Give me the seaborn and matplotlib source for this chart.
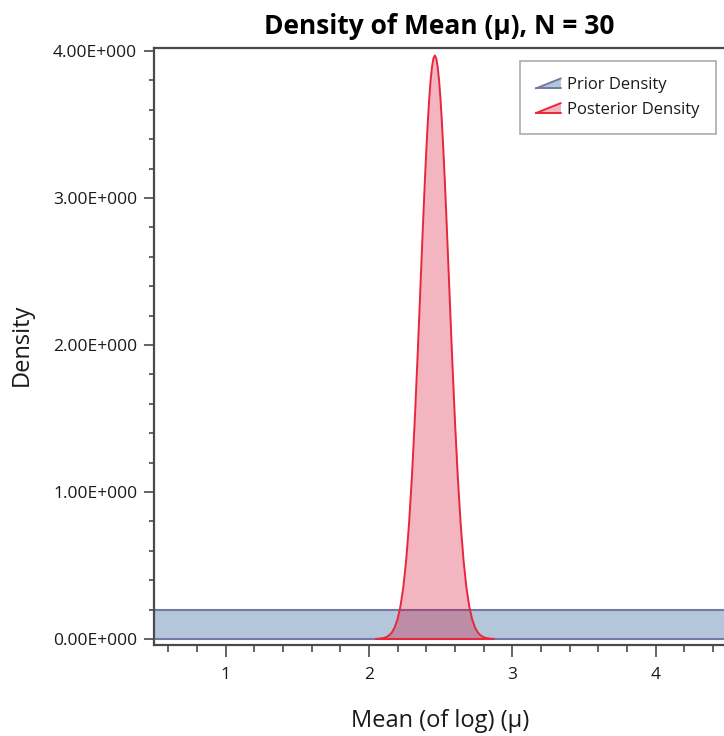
import matplotlib
matplotlib.use("Agg")
import matplotlib.pyplot as plt
import seaborn as sns
import pandas as pd
from matplotlib.ticker import FixedLocator, MultipleLocator
from matplotlib.legend_handler import HandlerBase
from matplotlib.patches import Polygon
from matplotlib.lines import Line2D

# ---------------- data ----------------
title = "Density of Mean (\u03bc), N = 30"
x_label = "Mean (of log) (\u03bc)"
y_label = "Density"
series_names = ["Prior Density", "Posterior Density"]

prior_bounds = [0.0, 5.0]          # uniform prior, extends past both axis edges
prior_density = 0.2

post_x = [2.05, 2.06, 2.08, 2.10, 2.12, 2.14, 2.16, 2.18, 2.20, 2.22, 2.24,
          2.26, 2.28, 2.30, 2.32, 2.34, 2.36, 2.37, 2.38, 2.39, 2.40, 2.41,
          2.42, 2.43, 2.44, 2.45, 2.46,
          2.47, 2.48, 2.49, 2.50, 2.51, 2.52, 2.53, 2.54, 2.55, 2.56, 2.58,
          2.60, 2.62, 2.64, 2.66, 2.68, 2.70, 2.72, 2.74, 2.76, 2.78, 2.80,
          2.82, 2.84, 2.86, 2.87]
post_y = [0.001, 0.001, 0.003, 0.006, 0.012, 0.024, 0.044, 0.079, 0.135, 0.223,
          0.353, 0.537, 0.786, 1.104, 1.490, 1.933, 2.408, 2.648, 2.883, 3.107,
          3.316, 3.504, 3.665, 3.795, 3.891, 3.950, 3.970,
          3.950, 3.891, 3.795, 3.665, 3.504, 3.316, 3.107, 2.883, 2.648, 2.408,
          1.933, 1.490, 1.104, 0.786, 0.537, 0.353, 0.223, 0.135, 0.079, 0.044,
          0.024, 0.012, 0.006, 0.003, 0.001, 0.001]

x_ticks = [1, 2, 3, 4]
x_tick_labels = ["1", "2", "3", "4"]
y_ticks = [0, 1, 2, 3, 4]
y_tick_labels = ["0.00E+000", "1.00E+000", "2.00E+000", "3.00E+000", "4.00E+000"]

# ---------------- style ----------------
sns.set_style("white")
plt.rcParams["font.family"] = ["Open Sans", "DejaVu Sans"]

prior_face = "#B4C6DA"
prior_edge = "#7479A8"
post_face = (214 / 255, 0.0, 38 / 255, 0.29)
post_edge = "#E8263C"
axis_col = "#4a4a4a"
text_col = "#1a1a1a"

W, H = 724, 736
fig = plt.figure(figsize=(W / 100, H / 100), dpi=100)
ax_l, ax_r, ax_t, ax_b = 154, 724, 48, 645
ax = fig.add_axes([ax_l / W, 1 - ax_b / H, (ax_r - ax_l) / W, (ax_b - ax_t) / H])

# prior: filled band with outline
ax.fill_between(prior_bounds, 0, prior_density, color=prior_face, lw=0, zorder=1)
prior_df = pd.DataFrame({
    "x": [prior_bounds[0], prior_bounds[0], prior_bounds[1], prior_bounds[1], prior_bounds[0]],
    "y": [0, prior_density, prior_density, 0, 0],
})
sns.lineplot(data=prior_df, x="x", y="y", sort=False, estimator=None,
             color=prior_edge, lw=1.5, ax=ax, legend=False, zorder=2)

# posterior: filled curve with closed outline
ax.fill_between(post_x, 0, post_y, color=post_face, lw=0, zorder=3)
post_df = pd.DataFrame({
    "x": post_x + [post_x[-1], post_x[0], post_x[0]],
    "y": post_y + [0, 0, post_y[0]],
})
sns.lineplot(data=post_df, x="x", y="y", sort=False, estimator=None,
             color=post_edge, lw=1.4, ax=ax, legend=False, zorder=4)
for ln in ax.get_lines():
    ln.set_solid_joinstyle("round")

# axes limits / ticks
ax.set_xlim(0.5, 4.478)
ax.set_ylim(-0.041, 4.0204)
ax.xaxis.set_major_locator(FixedLocator(x_ticks))
ax.set_xticklabels(x_tick_labels)
ax.xaxis.set_minor_locator(MultipleLocator(0.2))
ax.yaxis.set_major_locator(FixedLocator(y_ticks))
ax.set_yticklabels(y_tick_labels)
ax.yaxis.set_minor_locator(MultipleLocator(0.2))

for side in ["left", "bottom", "top"]:
    ax.spines[side].set_visible(True)
    ax.spines[side].set_color(axis_col)
    ax.spines[side].set_linewidth(1.6)
ax.spines["right"].set_visible(False)

ax.tick_params(axis="y", which="major", direction="out", length=7.2, width=1.2,
               color=axis_col, labelsize=12.5, labelcolor=text_col, pad=5, left=True)
ax.tick_params(axis="y", which="minor", direction="out", length=3.6, width=1.2,
               color=axis_col, left=True)
ax.tick_params(axis="x", which="major", direction="out", length=8.6, width=1.2,
               color=axis_col, labelsize=12.5, labelcolor=text_col, pad=7, bottom=True)
ax.tick_params(axis="x", which="minor", direction="out", length=5, width=1.2,
               color=axis_col, bottom=True)

ax.set_title(title, fontsize=19, fontweight="bold", color="black", pad=10)
ax.set_xlabel(x_label, fontsize=17, color=text_col, va="center")
ax.set_ylabel(y_label, fontsize=17, color=text_col, va="center")
ax.xaxis.set_label_coords((440 - ax_l) / (ax_r - ax_l), (ax_b - 721) / (ax_b - ax_t))
ax.yaxis.set_label_coords((22 - ax_l) / (ax_r - ax_l), (ax_b - 345) / (ax_b - ax_t))


class AreaHandler(HandlerBase):
    def __init__(self, face, edge):
        super().__init__()
        self.face = face
        self.edge = edge

    def create_artists(self, legend, orig_handle, xdescent, ydescent, width,
                       height, fontsize, trans):
        x0, y0 = -xdescent, -ydescent
        poly = Polygon([[x0, y0], [x0 + width, y0], [x0 + width, y0 + height]],
                       closed=True, fc=self.face, ec="none", transform=trans)
        slope = Line2D([x0, x0 + width], [y0, y0 + height], color=self.edge,
                       lw=1.4, transform=trans)
        base = Line2D([x0, x0 + width], [y0, y0], color=self.edge, lw=1.4,
                      transform=trans)
        return [poly, slope, base]


h_prior = Line2D([], [])
h_post = Line2D([], [])
leg = ax.legend([h_prior, h_post], series_names,
                handler_map={h_prior: AreaHandler(prior_face, prior_edge),
                             h_post: AreaHandler((244 / 255, 180 / 255, 192 / 255), post_edge)},
                loc="upper right", bbox_to_anchor=(716 / W, 1 - 61 / H),
                bbox_transform=fig.transFigure, borderaxespad=0,
                fontsize=12, frameon=True, fancybox=False, framealpha=1,
                edgecolor="#ABABAB", handlelength=1.5, handleheight=0.55,
                handletextpad=0.38, labelspacing=0.52, borderpad=0.98)
leg.get_frame().set_linewidth(1.2)
for t in leg.get_texts():
    t.set_color(text_col)

fig.savefig("out.png", dpi=100)
